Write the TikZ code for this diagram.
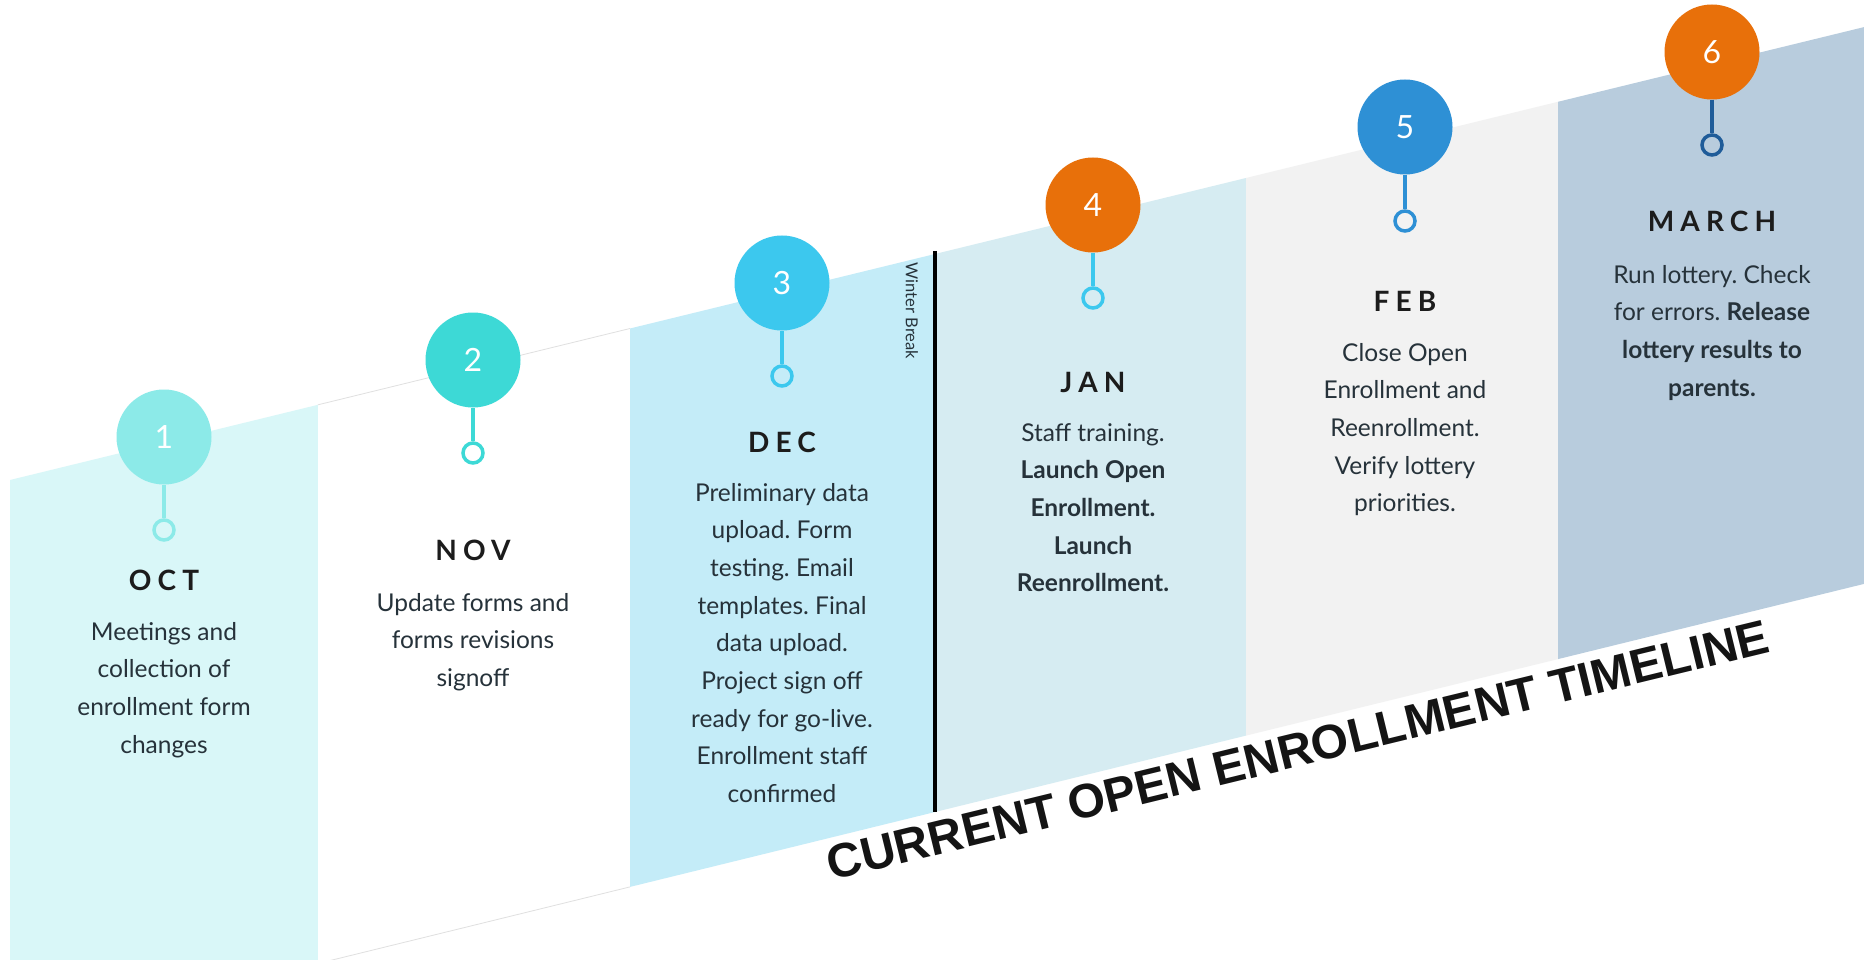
\documentclass[tikz,border=0pt]{standalone}
\usepackage{fontspec}
\setmainfont{Lato}
\newfontfamily\titlefont{Liberation Sans}
\frenchspacing
\definecolor{bandA}{HTML}{D9F7F8}
\definecolor{bandC}{HTML}{C4ECF8}
\definecolor{bandD}{HTML}{D6ECF2}
\definecolor{bandE}{HTML}{F2F2F2}
\definecolor{bandF}{HTML}{B8CCDD}
\definecolor{cA}{HTML}{8CEAE8}
\definecolor{cB}{HTML}{3DD9D6}
\definecolor{cC}{HTML}{3CC8EE}
\definecolor{cOr}{HTML}{E8700A}
\definecolor{cE}{HTML}{2E90D5}
\definecolor{cDk}{HTML}{1F5C99}
\definecolor{txt}{HTML}{26323A}
\definecolor{mon}{HTML}{1C1C1C}
\begin{document}
\begin{tikzpicture}[x=1pt,y=-1pt,
  bubble/.style={circle, minimum size=95pt, inner sep=0pt, text=white, font=\fontsize{32}{32}\selectfont},
  ringnode/.style={circle, minimum size=20pt, inner sep=0pt, line width=3.5pt, draw=#1},
  stemline/.style={line width=4pt, draw=#1},
  month/.style={anchor=base, text=mon, font=\fontsize{28}{28}\selectfont\bfseries\addfontfeature{LetterSpace=22}},
  desc/.style={anchor=base, align=center, text=txt, inner sep=0pt, font=\fontsize{24.5}{37.7}\selectfont\frenchspacing},
  titleword/.style={anchor=base, rotate=13.7, text=black!92, inner sep=0pt, font=\titlefont\bfseries\fontsize{48}{48}\selectfont},
  faint/.style={draw=black!12, line width=0.8pt}]
\useasboundingbox (0,0) rectangle (1864,960);
\clip (0,0) rectangle (1864,960);
\fill[white] (0,0) rectangle (1864,960);
% bands
\fill[bandA] (10,480) -- (318,404.8) -- (318,1000) -- (10,1000) -- cycle;
\fill[white] (318,404.8) -- (630,328.5) -- (630,886.9) -- (318,963.5) -- cycle;
\draw[faint] (318,404.8) -- (630,328.5);
\draw[faint] (318,963.5) -- (630,886.9);
\fill[bandC] (630,328.5) -- (935,254) -- (935,812) -- (630,886.9) -- cycle;
\fill[bandD] (935,254) -- (1246,178) -- (1246,735.6) -- (935,812) -- cycle;
\fill[bandE] (1246,178) -- (1558,101.8) -- (1558,659.1) -- (1246,735.6) -- cycle;
\fill[bandF] (1558,101.8) -- (1864,27.1) -- (1864,583.9) -- (1558,659.1) -- cycle;
% winter break
\coordinate (wbtop) at (935,251);
\coordinate (wbbot) at (935,812);
\draw[line width=4pt, black] (wbtop) -- (wbbot);
\node[rotate=-90, text=txt, font=\fontsize{16.5}{16.5}\selectfont] (wb) at (912,311) {Winter Break};
% bubbles
\node[bubble, fill=cA] (c1) at (164,437) {1};
\node[bubble, fill=cB] (c2) at (473,360) {2};
\node[bubble, fill=cC] (c3) at (782,283) {3};
\node[bubble, fill=cOr] (c4) at (1093,205) {4};
\node[bubble, fill=cE] (c5) at (1405,127) {5};
\node[bubble, fill=cOr] (c6) at (1712,52) {6};
\node[ringnode=cA] (r1) at (164,530) {};
\node[ringnode=cB] (r2) at (473,453) {};
\node[ringnode=cC] (r3) at (782,376) {};
\node[ringnode=cC] (r4) at (1093,298) {};
\node[ringnode=cE] (r5) at (1405,221) {};
\node[ringnode=cDk] (r6) at (1712,145) {};
\draw[stemline=cA] (c1.south) -- (r1.north);
\draw[stemline=cB] (c2.south) -- (r2.north);
\draw[stemline=cC] (c3.south) -- (r3.north);
\draw[stemline=cC] (c4.south) -- (r4.north);
\draw[stemline=cE] (c5.south) -- (r5.north);
\draw[stemline=cDk] (c6.south) -- (r6.north);
% months
\node[month] (m1) at (164,590) {OCT};
\node[month] (m2) at (473,560) {NOV};
\node[month] (m3) at (782,452) {DEC};
\node[month] (m4) at (1093,392) {JAN};
\node[month] (m5) at (1405,311) {FEB};
\node[month] (m6) at (1712,232) {MARCH};
% descriptions (anchor = baseline of last line)
\node[desc] (d1) at (164,753.1) {Meetings and\\collection of\\enrollment form\\changes};
\node[desc] (d2) at (473,686.4) {Update forms and\\forms revisions\\signoff};
\node[desc] (d3) at (782,802.6) {Preliminary data\\upload. Form\\testing. Email\\templates. Final\\data upload.\\Project sign off\\ready for go-live.\\Enrollment staff\\confirmed};
\node[desc] (d4) at (1093,591.8) {Staff training.\\\textbf{Launch Open}\\\textbf{Enrollment.}\\\textbf{Launch}\\\textbf{Reenrollment.}};
\node[desc] (d5) at (1405,511.8) {Close Open\\Enrollment and\\Reenrollment.\\Verify lottery\\priorities.};
\node[desc] (d6) at (1712,396.1) {Run lottery. Check\\for errors. \textbf{Release}\\\textbf{lottery results to}\\\textbf{parents.}};
% title, word by word along the slanted baseline
\begin{scope}[shift={(1302,766)}, rotate=13.7]
  \node[titleword] (t1) at (-366.9,0) {CURRENT};
  \node[titleword] (t2) at (-168.3,0) {OPEN};
  \node[titleword] (t3) at (79.6,0) {ENROLLMENT};
  \node[titleword] (t4) at (371.6,0) {TIMELINE};
\end{scope}
\end{tikzpicture}
\end{document}
